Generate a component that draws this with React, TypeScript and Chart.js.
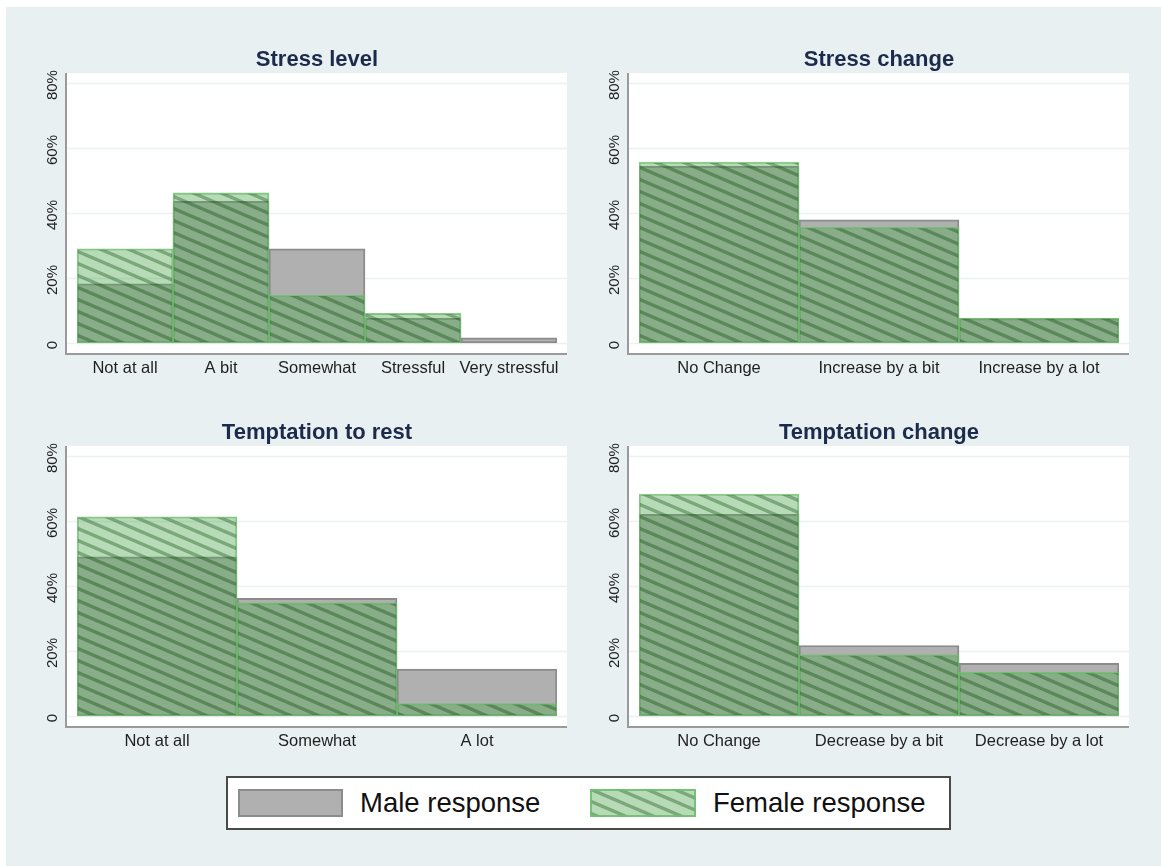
import React, { useEffect, useRef } from "react";
import { Chart, registerables } from "chart.js";

Chart.register(...registerables);

// ---------- data ----------
const stressLevelCats = ["Not at all", "A bit", "Somewhat", "Stressful", "Very stressful"];
const stressLevelMale = [18.2, 43.6, 29.0, 7.6, 1.6];
const stressLevelFemale = [29.0, 46.2, 14.7, 9.1, 0];

const stressChangeCats = ["No Change", "Increase by a bit", "Increase by a lot"];
const stressChangeMale = [54.4, 37.9, 7.5];
const stressChangeFemale = [55.7, 35.6, 7.7];

const temptRestCats = ["Not at all", "Somewhat", "A lot"];
const temptRestMale = [49.0, 36.2, 14.4];
const temptRestFemale = [61.3, 34.8, 3.8];

const temptChangeCats = ["No Change", "Decrease by a bit", "Decrease by a lot"];
const temptChangeMale = [62.1, 21.7, 16.2];
const temptChangeFemale = [68.3, 18.8, 13.4];

const panelTitles = ["Stress level", "Stress change", "Temptation to rest", "Temptation change"];
const yTickValues = [0, 20, 40, 60, 80];
const yTickLabels = ["0", "20%", "40%", "60%", "80%"];
const legendLabels = ["Male response", "Female response"];

const FONT = '"Liberation Sans", Arial, Helvetica, sans-serif';

// ---------- hatch pattern ----------
function makeHatchCanvas(): HTMLCanvasElement {
  const w = 28, h = 12;
  const c = document.createElement("canvas");
  c.width = w; c.height = h;
  const g = c.getContext("2d")!;
  const img = g.createImageData(w, h);
  const slope = h / w;
  const norm = Math.sqrt(1 + slope * slope);
  const half = 1.7;
  const base = [80, 170, 80, 0.42];
  const stripe = [35, 108, 35, 0.6];
  for (let py = 0; py < h; py++) {
    for (let px = 0; px < w; px++) {
      const x = px + 0.5, yy = py + 0.5;
      let d = (yy - slope * x) % h;
      if (d < 0) d += h;
      const dv = Math.min(d, h - d);
      const dist = dv / norm;
      const cov = Math.max(0, Math.min(1, half + 0.5 - dist));
      const a = base[3] * (1 - cov) + stripe[3] * cov;
      const r = (base[0] * base[3] * (1 - cov) + stripe[0] * stripe[3] * cov) / a;
      const gg = (base[1] * base[3] * (1 - cov) + stripe[1] * stripe[3] * cov) / a;
      const b = (base[2] * base[3] * (1 - cov) + stripe[2] * stripe[3] * cov) / a;
      const i = (py * w + px) * 4;
      img.data[i] = r; img.data[i + 1] = gg; img.data[i + 2] = b; img.data[i + 3] = Math.round(a * 255);
    }
  }
  g.putImageData(img, 0, 0);
  return c;
}

function framePlugin() {
  return {
    id: "panelFrame",
    beforeDraw(chart: any) {
      const { ctx, chartArea: a, scales } = chart;
      const y = scales.y;
      const L = a.left - 11, R = a.right + 10;
      ctx.save();
      ctx.fillStyle = "#ffffff";
      ctx.fillRect(L, a.top, R - L, a.bottom - a.top);
      ctx.strokeStyle = "#ecf2f4";
      ctx.lineWidth = 1.5;
      yTickValues.forEach((v) => {
        const py = Math.round(y.getPixelForValue(v)) + 0.5;
        ctx.beginPath(); ctx.moveTo(L, py); ctx.lineTo(R, py); ctx.stroke();
      });
      ctx.strokeStyle = "#9a9a9a";
      ctx.lineWidth = 2;
      ctx.beginPath();
      ctx.moveTo(L, a.top);
      ctx.lineTo(L, a.bottom - 1);
      ctx.lineTo(R, a.bottom - 1);
      ctx.stroke();
      ctx.fillStyle = "#222222";
      ctx.font = "15px " + FONT;
      ctx.textAlign = "center";
      ctx.textBaseline = "middle";
      yTickValues.forEach((v, i) => {
        const py = y.getPixelForValue(v);
        ctx.save();
        ctx.translate(L - 13, py + 2);
        ctx.rotate(-Math.PI / 2);
        ctx.fillText(yTickLabels[i], 0, 0);
        ctx.restore();
      });
      ctx.restore();
    },
  };
}

function makeChart(canvas: HTMLCanvasElement, title: string, cats: string[], male: number[], female: number[], pattern: any) {
  return new Chart(canvas, {
    type: "bar",
    data: {
      labels: cats,
      datasets: [
        {
          label: legendLabels[1],
          data: female,
          backgroundColor: pattern,
          borderColor: "rgba(110,190,110,0.8)",
          borderWidth: 1.2,
          borderSkipped: false,
          order: 0,
        },
        {
          label: legendLabels[0],
          data: male,
          backgroundColor: "#b0b0b0",
          borderColor: "#8c8c8c",
          borderWidth: 2,
          borderSkipped: false,
          order: 1,
        },
      ],
    },
    options: {
      responsive: false,
      animation: false,
      layout: { padding: { left: 40, right: 40, top: 0, bottom: 0 } },
      datasets: { bar: { barPercentage: 1, categoryPercentage: 1, grouped: false } } as any,
      scales: {
        x: {
          type: "category",
          offset: true,
          grid: { display: false, drawTicks: false },
          border: { display: false },
          ticks: {
            color: "#1f1f1f",
            font: { family: FONT, size: 16.5 },
            padding: 4,
            autoSkip: false,
            maxRotation: 0,
            minRotation: 0,
          },
          afterFit: (s: any) => { s.height = 35; },
        },
        y: { display: false, min: -3.7, max: 83.1 },
      },
      plugins: {
        legend: { display: false },
        tooltip: { enabled: false },
        title: {
          display: true,
          text: title,
          color: "#1c2a4c",
          font: { family: FONT, size: 22, weight: "bold" },
          padding: { top: 16.6, bottom: 0 },
        },
      },
    } as any,
    plugins: [framePlugin()],
  });
}

export default function App() {
  const r0 = useRef<HTMLCanvasElement>(null);
  const r1 = useRef<HTMLCanvasElement>(null);
  const r2 = useRef<HTMLCanvasElement>(null);
  const r3 = useRef<HTMLCanvasElement>(null);
  const legRef = useRef<HTMLCanvasElement>(null);

  useEffect(() => {
    const tile = makeHatchCanvas();
    const tmp = document.createElement("canvas").getContext("2d")!;
    const pattern = tmp.createPattern(tile, "repeat");
    const charts = [
      makeChart(r0.current!, panelTitles[0], stressLevelCats, stressLevelMale, stressLevelFemale, pattern),
      makeChart(r1.current!, panelTitles[1], stressChangeCats, stressChangeMale, stressChangeFemale, pattern),
      makeChart(r2.current!, panelTitles[2], temptRestCats, temptRestMale, temptRestFemale, pattern),
      makeChart(r3.current!, panelTitles[3], temptChangeCats, temptChangeMale, temptChangeFemale, pattern),
    ];
    const lc = legRef.current!;
    const g = lc.getContext("2d")!;
    g.clearRect(0, 0, lc.width, lc.height);
    g.fillStyle = "#ffffff";
    g.fillRect(0, 0, lc.width, lc.height);
    g.fillStyle = pattern as any;
    g.fillRect(0, 0, lc.width, lc.height);
    g.strokeStyle = "rgba(110,190,110,0.9)";
    g.lineWidth = 2;
    g.strokeRect(1, 1, lc.width - 2, lc.height - 2);
    return () => charts.forEach((c) => c.destroy());
  }, []);

  const cv = (ref: any, left: number, top: number) => (
    <canvas ref={ref} width={560} height={360} style={{ position: "absolute", left, top, width: 560, height: 360 }} />
  );

  return (
    <div style={{ position: "absolute", left: 0, top: 0, width: 1161, height: 866, overflow: "hidden", background: "#ffffff" }}>
      <div style={{ position: "absolute", left: 6, top: 7, width: 1155, height: 859, background: "#e8f0f2" }} />
      {cv(r0, 37, 30)}
      {cv(r1, 599, 30)}
      {cv(r2, 37, 403)}
      {cv(r3, 599, 403)}
      <div
        style={{
          position: "absolute", left: 226, top: 776, width: 725, height: 54, boxSizing: "border-box",
          border: "2px solid #4a4a4a", background: "#ffffff", fontFamily: FONT, fontSize: 27.5, color: "#111111",
        }}
      >
        <div style={{ position: "absolute", left: 10, top: 11, width: 105, height: 28, boxSizing: "border-box", background: "#b0b0b0", border: "2px solid #8c8c8c" }} />
        <span style={{ position: "absolute", left: 132, top: 0, height: 50, lineHeight: "50px", whiteSpace: "nowrap" }}>{legendLabels[0]}</span>
        <canvas ref={legRef} width={106} height={28} style={{ position: "absolute", left: 362, top: 11, width: 106, height: 28 }} />
        <span style={{ position: "absolute", left: 485, top: 0, height: 50, lineHeight: "50px", whiteSpace: "nowrap" }}>{legendLabels[1]}</span>
      </div>
    </div>
  );
}
